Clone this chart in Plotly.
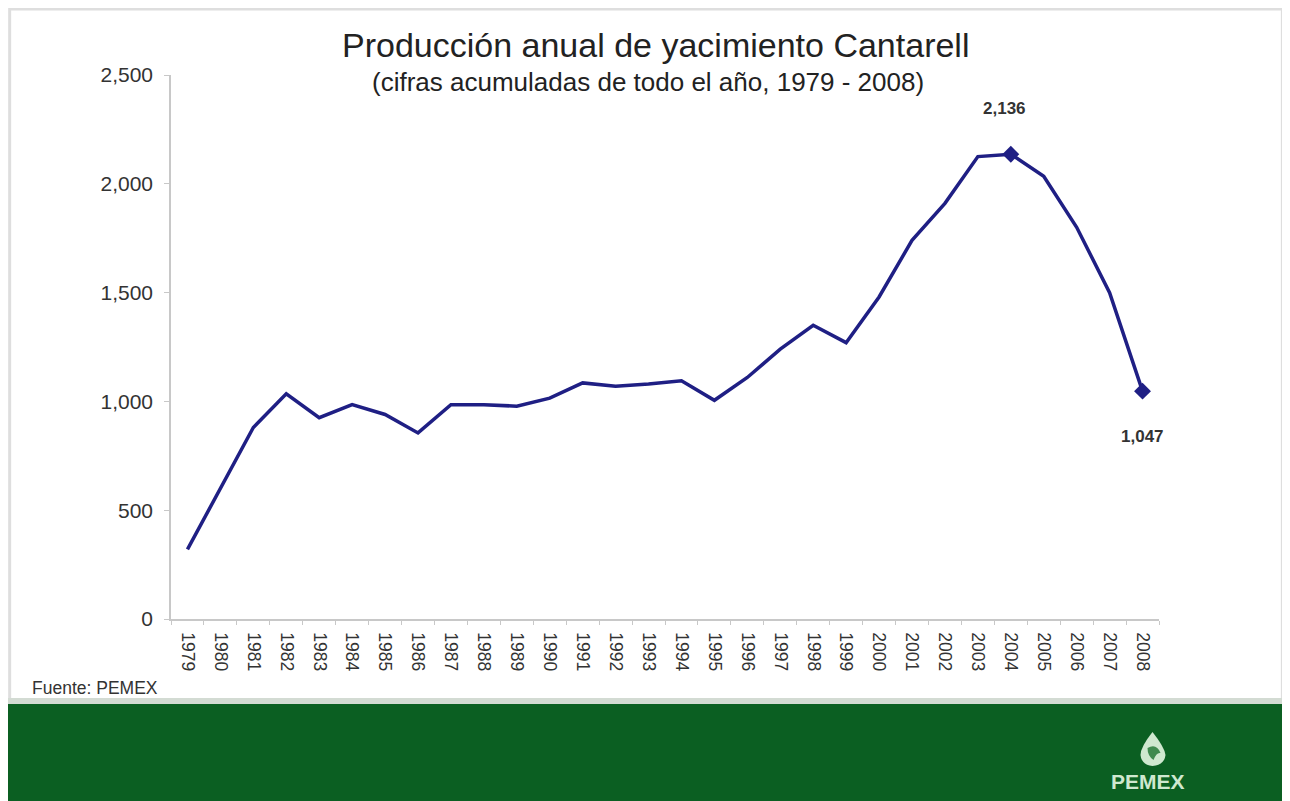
import plotly.graph_objects as go

years = [str(y) for y in range(1979, 2009)]
production = [320, 600, 880, 1035, 925, 985, 940, 855, 985, 985,
              978, 1015, 1085, 1070, 1080, 1095, 1005, 1110, 1240, 1350,
              1270, 1480, 1740, 1910, 2125, 2136, 2035, 1800, 1500, 1047]
highlight_years = ["2004", "2008"]
y_ticks = [0, 500, 1000, 1500, 2000, 2500]

title_text = "Producción anual de yacimiento Cantarell"
subtitle_text = "(cifras acumuladas de todo el año, 1979 - 2008)"
source_text = "Fuente: PEMEX"

# page body margin offsets the figure by 8px
OFF = 8
W, H = 1290 - OFF, 801 - OFF
L, R, T, B = 170.5, 1159.5, 75, 619  # plot area in reference pixels


def px(x):
    return (x - L) / (R - L)


def py(y):
    return (B - y) / (B - T)


FONT = "Arial, Liberation Sans, sans-serif"
LINE = "#1f1f84"

fig = go.Figure()
fig.add_trace(go.Scatter(
    x=years, y=production, mode="lines",
    line=dict(color=LINE, width=3.5), hoverinfo="x+y", showlegend=False))

hidx = [years.index(y) for y in highlight_years]
hx = [years[i] for i in hidx]
hy = [production[i] for i in hidx]
fig.add_trace(go.Scatter(
    x=hx, y=hy, mode="markers",
    marker=dict(symbol="diamond", size=13, color=LINE),
    showlegend=False))

annotations = [
    dict(x=hidx[0], y=hy[0], text=f"<b>{hy[0]:,}</b>", showarrow=False,
         xref="x", yref="y", yshift=46, xshift=-6,
         xanchor="center", yanchor="middle",
         font=dict(family=FONT, size=17, color="#333333")),
    dict(x=hidx[1], y=hy[1], text=f"<b>{hy[1]:,}</b>", showarrow=False,
         xref="x", yref="y", yshift=-45,
         xanchor="center", yanchor="middle",
         font=dict(family=FONT, size=17, color="#333333")),
    dict(x=px(655), y=py(45), xref="paper", yref="paper", text=title_text,
         xanchor="center", yanchor="middle",
         showarrow=False, font=dict(family=FONT, size=34, color="#222222")),
    dict(x=px(648), y=py(82), xref="paper", yref="paper", text=subtitle_text,
         xanchor="center", yanchor="middle",
         showarrow=False, font=dict(family=FONT, size=26, color="#222222")),
    dict(x=px(29), y=py(688), xref="paper", yref="paper", text=source_text,
         xanchor="left", yanchor="middle", showarrow=False,
         font=dict(family=FONT, size=17.5, color="#333333")),
    dict(x=px(1148), y=py(781), xref="paper", yref="paper", text="<b>PEMEX</b>",
         xanchor="center", yanchor="middle",
         showarrow=False, font=dict(family=FONT, size=21, color="#cfe8cf")),
]

shapes = [
    # outer frame
    dict(type="rect", xref="paper", yref="paper",
         x0=px(9), x1=px(1283), y0=py(703), y1=py(9),
         line=dict(color="#dedede", width=3), fillcolor="rgba(0,0,0,0)", layer="below"),
    # shadow above green band
    dict(type="rect", xref="paper", yref="paper",
         x0=px(0), x1=px(1300), y0=py(706), y1=py(698),
         line=dict(width=0), fillcolor="#d3dbd3", layer="below"),
    # green band
    dict(type="rect", xref="paper", yref="paper",
         x0=px(0), x1=px(1300), y0=py(810), y1=py(704),
         line=dict(width=0), fillcolor="#0b5f22", layer="below"),
    # logo drop
    dict(type="path", xref="paper", yref="paper",
         path=(f"M {px(1153)} {py(732)} "
               f"Q {px(1141)} {py(747)} {px(1141)} {py(755)} "
               f"Q {px(1142)} {py(765)} {px(1153)} {py(766)} "
               f"Q {px(1165)} {py(765)} {px(1166)} {py(755)} "
               f"Q {px(1165)} {py(747)} {px(1153)} {py(732)} Z"),
         line=dict(width=0), fillcolor="#cfe8cf"),
    dict(type="path", xref="paper", yref="paper",
         path=(f"M {px(1148)} {py(748)} "
               f"Q {px(1157)} {py(743)} {px(1161)} {py(753)} "
               f"Q {px(1157)} {py(752)} {px(1154)} {py(760)} "
               f"Q {px(1148)} {py(756)} {px(1148)} {py(748)} Z"),
         line=dict(width=0), fillcolor="#3f8a4e"),
]

fig.update_layout(
    width=W, height=H,
    margin=dict(l=L - OFF, r=1290 - R, t=T - OFF, b=801 - B, pad=0),
    paper_bgcolor="white", plot_bgcolor="white",
    annotations=annotations, shapes=shapes,
    xaxis=dict(type="category", categoryorder="array", categoryarray=years,
               tickangle=90, tickson="boundaries", ticks="outside", ticklen=4,
               tickcolor="#c8c8c8", showline=True, linecolor="#c8c8c8",
               linewidth=1.5, showgrid=False, zeroline=False,
               ticklabelstandoff=8,
               tickfont=dict(family=FONT, size=17.5, color="#333333"),
               range=[-0.5, len(years) - 0.5]),
    yaxis=dict(range=[0, 2500], tickvals=y_ticks, tickformat=",d",
               ticks="outside", ticklen=5, tickcolor="#c8c8c8",
               showline=True, linecolor="#c8c8c8", linewidth=1.5,
               showgrid=False, zeroline=False, ticklabelstandoff=7,
               tickfont=dict(family=FONT, size=21, color="#333333")),
)

fig.write_html("out.html")
